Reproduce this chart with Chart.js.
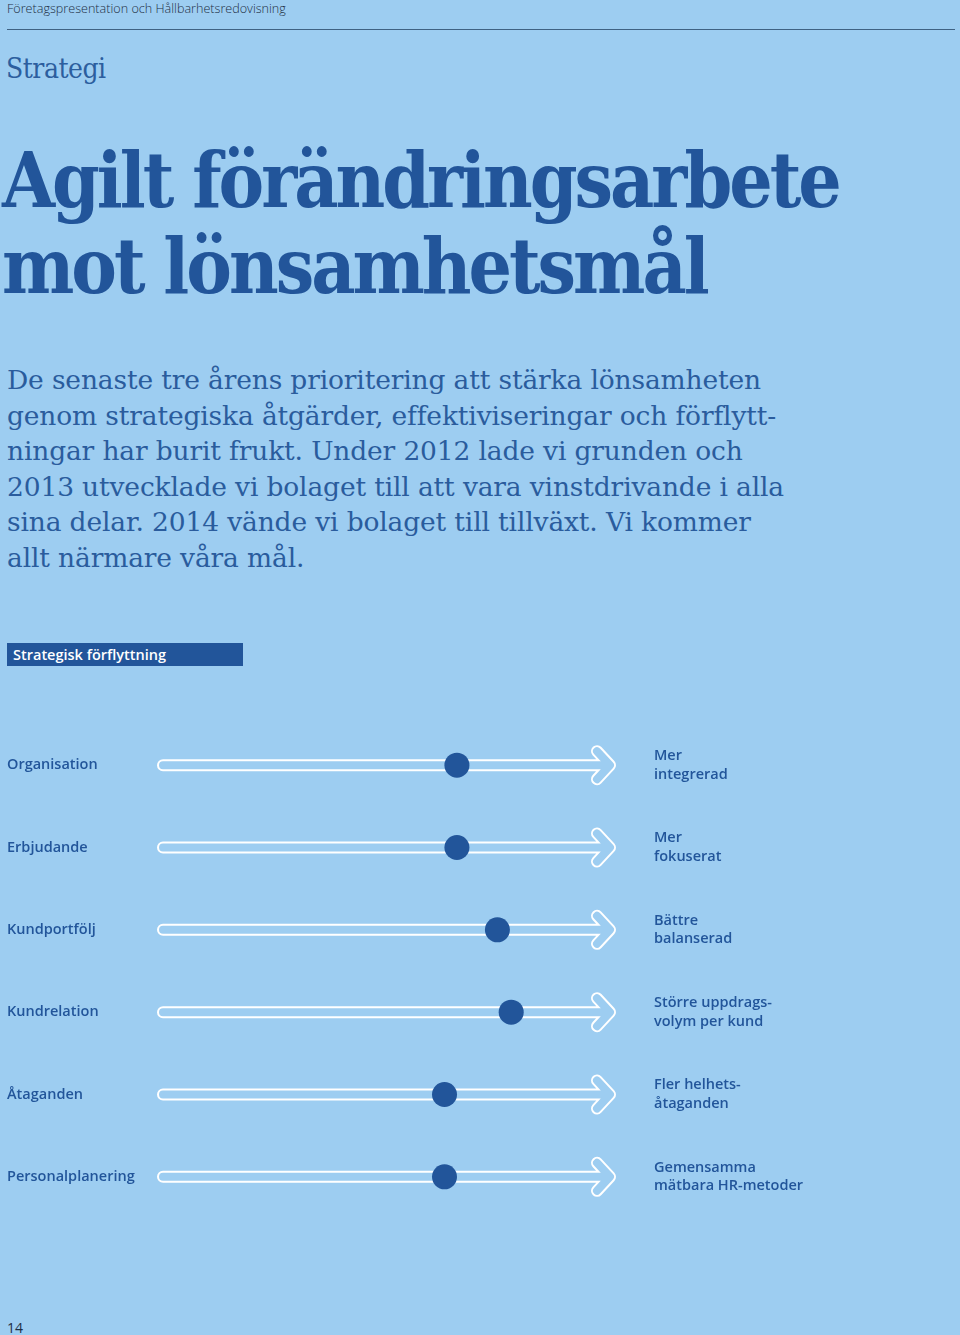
<!DOCTYPE html>
<html lang="sv">
<head>
<meta charset="utf-8">
<title>Strategisk förflyttning</title>
<script src="https://cdn.jsdelivr.net/npm/chart.js@4"></script>
<style>
  html, body {
    margin: 0;
    padding: 0;
  }
  body {
    width: 960px;
    height: 1335px;
    background: #9dcdf1;
    position: relative;
    overflow: hidden;
    color: #22559a;
  }
  .abs {
    position: absolute;
    white-space: nowrap;
  }
  #running-head {
    left: 7px;
    top: 0px;
    font: 300 12.6px "Open Sans", sans-serif;
    color: #1d2f45;
  }
  #rule {
    left: 7px;
    top: 29px;
    width: 948px;
    height: 0;
    border-top: 1.5px solid #3f6283;
  }
  #section {
    left: 6px;
    top: 52px;
    font: 500 28px "DejaVu Serif Condensed", "DejaVu Serif", serif;
    color: #2c5e9e;
    letter-spacing: -0.5px;
  }
  #title {
    left: 2px;
    top: 138px;
    font: bold 76px/86px "DejaVu Serif Condensed", "DejaVu Serif", serif;
    letter-spacing: -3px;
    color: #22559a;
  }
  #lead {
    left: 7px;
    top: 362px;
    font: 26.5px/35.6px "DejaVu Serif", serif;
    color: #2a5c9d;
    letter-spacing: -0.15px;
  }
  #box {
    left: 7px;
    top: 643px;
    width: 236px;
    height: 23px;
    background: #22559a;
    color: #ffffff;
    font: 600 14.5px/23px "Open Sans", sans-serif;
    box-sizing: border-box;
    padding-left: 6px;
  }
  #page {
    left: 7px;
    top: 1318px;
    font: 14px "Open Sans", sans-serif;
    color: #1d2f45;
  }
  #chart {
    position: absolute;
    left: 0;
    top: 690px;
  }
</style>
</head>
<body>
<div class="abs" id="running-head">Företagspresentation och Hållbarhetsredovisning</div>
<div class="abs" id="rule"></div>
<div class="abs" id="section">Strategi</div>
<div class="abs" id="title">Agilt förändringsarbete<br>mot lönsamhetsmål</div>
<div class="abs" id="lead">De senaste tre årens prioritering att stärka lönsamheten<br>genom strategiska åtgärder, effektiviseringar och förflytt-<br>ningar har burit frukt. Under 2012 lade vi grunden och<br>2013 utvecklade vi bolaget till att vara vinstdrivande i alla<br>sina delar. 2014 vände vi bolaget till tillväxt. Vi kommer<br>allt närmare våra mål.</div>
<div class="abs" id="box">Strategisk förflyttning</div>
<canvas id="chart" width="960" height="560"></canvas>
<div class="abs" id="page">14</div>

<script>
// areas (left labels), where each one is heading (right labels)
const areas = ['Organisation', 'Erbjudande', 'Kundportfölj', 'Kundrelation', 'Åtaganden', 'Personalplanering'];
const goals = [
    ['Mer', 'integrerad'],
    ['Mer', 'fokuserat'],
    ['Bättre', 'balanserad'],
    ['Större uppdrags-', 'volym per kund'],
    ['Fler helhets-', 'åtaganden'],
    ['Gemensamma', 'mätbara HR-metoder']
];
// how far along the arrow each area has come (0 = start, 100 = arrow tip)
const progress = [65.2, 65.2, 74, 77, 62.5, 62.5];

const dark = '#22559a';
const bg = '#9dcdf1';
const labelFont = { family: '"Open Sans", sans-serif', size: 14.5, weight: '600', lineHeight: 1.3 };

// white outlined arrow behind every row
const arrowTracks = {
    id: 'arrowTracks',
    beforeDatasetsDraw(chart) {
        const { ctx, scales: { x, y } } = chart;
        const start = x.getPixelForValue(0);
        const tip = x.getPixelForValue(100);
        ctx.save();
        ctx.lineCap = 'round';
        ctx.lineJoin = 'round';
        areas.forEach((a, i) => {
            const cy = y.getPixelForValue(i);
            const path = () => {
                ctx.beginPath();
                ctx.moveTo(start + 6, cy);
                ctx.lineTo(tip - 8, cy);
                ctx.moveTo(tip - 20, cy - 14);
                ctx.lineTo(tip - 7, cy);
                ctx.lineTo(tip - 20, cy + 14);
            };
            path();
            ctx.strokeStyle = '#ffffff';
            ctx.lineWidth = 12;
            ctx.stroke();
            path();
            ctx.strokeStyle = bg;
            ctx.lineWidth = 8;
            ctx.stroke();
        });
        ctx.restore();
    }
};

// keep the label heights from pushing the rows together
function fixedWidth(w) {
    return (scale) => {
        scale.width = w;
        scale.paddingTop = 0;
        scale.paddingBottom = 0;
    };
}

new Chart('chart', {
    type: 'line',
    data: {
        labels: areas,
        datasets: [{
            data: progress,
            showLine: false,
            pointRadius: 12.5,
            pointHoverRadius: 12.5,
            pointBorderWidth: 0,
            pointBackgroundColor: dark,
            borderColor: dark
        }]
    },
    options: {
        indexAxis: 'y',
        responsive: false,
        animation: false,
        devicePixelRatio: 1,
        events: [],
        layout: {
            padding: { left: 7, top: 34, bottom: 32, right: 0 }
        },
        plugins: {
            legend: { display: false },
            tooltip: { enabled: false }
        },
        scales: {
            x: {
                type: 'linear',
                min: 0,
                max: 100,
                display: false
            },
            y: {
                type: 'category',
                position: 'left',
                offset: true,
                grid: { display: false, drawTicks: false },
                border: { display: false },
                ticks: { crossAlign: 'far', padding: 0, color: dark, font: labelFont },
                afterFit: fixedWidth(150)
            },
            y2: {
                type: 'category',
                position: 'right',
                labels: goals,
                offset: true,
                grid: { display: false, drawTicks: false },
                border: { display: false },
                ticks: { padding: 37, color: dark, font: labelFont },
                afterFit: fixedWidth(343)
            }
        }
    },
    plugins: [arrowTracks]
});
</script>
</body>
</html>
